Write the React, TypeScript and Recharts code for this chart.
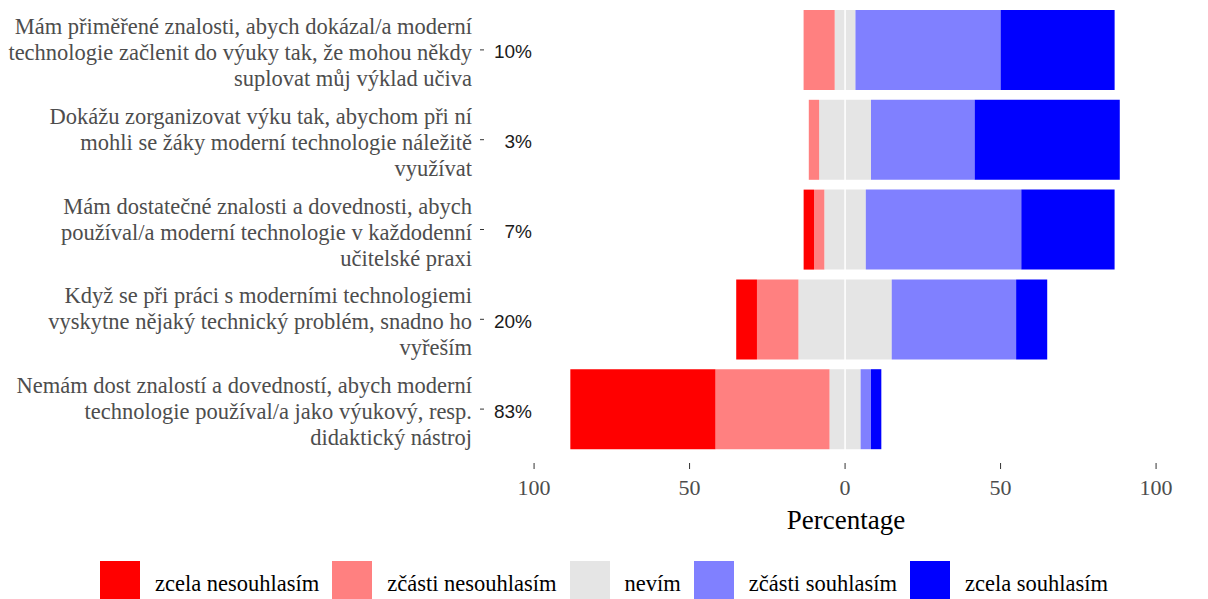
import React from 'react';
import { BarChart, Bar, XAxis, YAxis, Legend, ReferenceLine } from 'recharts';

const statements = [
  ['Mám přiměřené znalosti, abych dokázal/a moderní', 'technologie začlenit do výuky tak, že mohou někdy', 'suplovat můj výklad učiva'],
  ['Dokážu zorganizovat výku tak, abychom při ní', 'mohli se žáky moderní technologie náležitě', 'využívat'],
  ['Mám dostatečné znalosti a dovednosti, abych', 'používal/a moderní technologie v každodenní', 'učitelské praxi'],
  ['Když se při práci s moderními technologiemi', 'vyskytne nějaký technický problém, snadno ho', 'vyřeším'],
  ['Nemám dost znalostí a dovedností, abych moderní', 'technologie používal/a jako výukový, resp.', 'didaktický nástroj'],
];

const lowPct = ['10%', '3%', '7%', '20%', '83%'];
const highPct = ['83%', '80%', '80%', '50%', '7%'];

// percentages of answers per statement
const zcelaNesouhlasim = [0, 0, 3.33, 6.67, 46.67];
const castiNesouhlasim = [10, 3.33, 3.33, 13.33, 36.67];
const nevim = [6.67, 16.67, 13.33, 30, 10];
const castiSouhlasim = [46.67, 33.33, 50, 40, 3.33];
const zcelaSouhlasim = [36.67, 46.67, 30, 10, 3.33];

const xTicks = [-100, -50, 0, 50, 100];

const legendItems = [
  { name: 'zcela nesouhlasím', color: '#FF0000' },
  { name: 'zčásti nesouhlasím', color: '#FF8080' },
  { name: 'nevím', color: '#E5E5E5' },
  { name: 'zčásti souhlasím', color: '#8080FF' },
  { name: 'zcela souhlasím', color: '#0000FF' },
];

const data = statements.map((s, i) => ({
  key: `q${i}`,
  nevL: -nevim[i] / 2,
  cnL: -castiNesouhlasim[i],
  zdL: -zcelaNesouhlasim[i],
  nevR: nevim[i] / 2,
  cs: castiSouhlasim[i],
  zs: zcelaSouhlasim[i],
}));

const SERIF = '"Liberation Serif", "Times New Roman", serif';
const SANS = '"Liberation Sans", Arial, sans-serif';

const StatementTick = ({ x, y, index }: any) => {
  const lines = statements[index] || [];
  return (
    <g>
      <text x={x} y={y} textAnchor="end" dominantBaseline="central" fontFamily={SERIF} fontSize={22.5} fill="#4D4D4D">
        {lines.map((l, i) => (
          <tspan key={i} x={x} y={y + 2 + (i - 1) * 26}>{l}</tspan>
        ))}
      </text>
      <text x={x + 60} y={y + 2} textAnchor="end" dominantBaseline="central" fontFamily={SANS} fontSize={19} fill="#1A1A1A">
        {lowPct[index]}
      </text>
    </g>
  );
};

const HighTick = ({ x, y, index }: any) => (
  <text x={x} y={y + 2} textAnchor="end" dominantBaseline="central" fontFamily={SANS} fontSize={19} fill="#1A1A1A">
    {highPct[index]}
  </text>
);

const LegendContent = () => (
  <div style={{ display: 'flex', justifyContent: 'center', height: 38, fontFamily: SERIF, fontSize: 22.5, color: '#000' }}>
    {legendItems.map((item, i) => (
      <div key={item.name} style={{ display: 'flex', alignItems: 'flex-start', marginLeft: i === 0 ? 0 : 13 }}>
        <div style={{ width: 40, height: 40, background: item.color }} />
        <span style={{ marginLeft: 15, paddingTop: 10 }}>{item.name}</span>
      </div>
    ))}
  </div>
);

export default function App() {
  return (
    <div style={{ position: 'absolute', left: 0, top: 0, width: 1208, height: 599, overflow: 'hidden', background: '#fff' }}>
      <BarChart
        width={1208}
        height={599}
        data={data}
        layout="vertical"
        stackOffset="sign"
        margin={{ top: 5, right: 0, bottom: 0, left: 0 }}
      >
        <XAxis
          type="number"
          domain={[-116.1, 116.7]}
          allowDataOverflow
          ticks={xTicks}
          tickFormatter={(v: number) => `${Math.abs(v)}`}
          axisLine={false}
          tickSize={6}
          tickMargin={10}
          tickLine={{ stroke: '#333333' }}
          tick={{ fontFamily: SERIF, fontSize: 22, fill: '#4D4D4D' }}
          height={98}
          label={({ viewBox }: any) => (
            <text x={viewBox.x + viewBox.width / 2} y={viewBox.y + 66} textAnchor="middle" fontFamily={SERIF} fontSize={27} fill="#000">
              Percentage
            </text>
          )}
        />
        <YAxis
          yAxisId="cat"
          type="category"
          dataKey="key"
          width={484}
          axisLine={false}
          tickSize={4}
          tickMargin={8}
          tickLine={{ stroke: '#333333' }}
          tick={<StatementTick />}
          padding={{ top: 0, bottom: 9 }}
        />
        <YAxis
          yAxisId="pct"
          type="category"
          dataKey="key"
          orientation="right"
          mirror
          width={0}
          axisLine={false}
          tickLine={false}
          tickSize={0}
          tickMargin={4}
          tick={<HighTick />}
          padding={{ top: 0, bottom: 9 }}
        />
        <Legend verticalAlign="bottom" content={<LegendContent />} />
        <Bar yAxisId="cat" dataKey="nevL" stackId="a" fill="#E5E5E5" barSize={80} isAnimationActive={false} />
        <Bar yAxisId="cat" dataKey="cnL" stackId="a" fill="#FF8080" barSize={80} isAnimationActive={false} />
        <Bar yAxisId="cat" dataKey="zdL" stackId="a" fill="#FF0000" barSize={80} isAnimationActive={false} />
        <Bar yAxisId="cat" dataKey="nevR" stackId="a" fill="#E5E5E5" barSize={80} isAnimationActive={false} />
        <Bar yAxisId="cat" dataKey="cs" stackId="a" fill="#8080FF" barSize={80} isAnimationActive={false} />
        <Bar yAxisId="cat" dataKey="zs" stackId="a" fill="#0000FF" barSize={80} isAnimationActive={false} />
        <ReferenceLine yAxisId="cat" x={0} stroke="#FFFFFF" strokeWidth={1.5} />
      </BarChart>
    </div>
  );
}
